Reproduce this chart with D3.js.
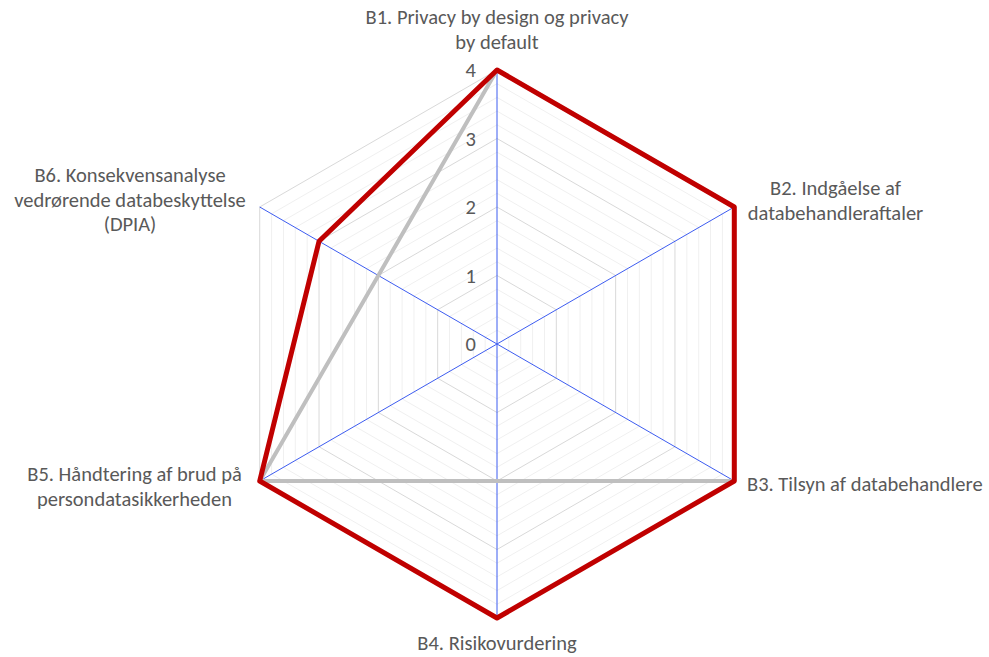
<!DOCTYPE html>
<html>
<head>
<meta charset="utf-8">
<script src="https://cdn.jsdelivr.net/npm/d3@7"></script>
<style>
  body { margin: 0; background: #fff; }
  svg text { font-family: Carlito, Lato, "Open Sans", sans-serif; fill: #595959; }
</style>
</head>
<body>
<div id="chart"></div>
<script>
const categories = [
  ["B1. Privacy by design og privacy", "by default"],
  ["B2. Indgåelse af", "databehandleraftaler"],
  ["B3. Tilsyn af databehandlere"],
  ["B4. Risikovurdering"],
  ["B5. Håndtering af brud på", "persondatasikkerheden"],
  ["B6. Konsekvensanalyse", "vedrørende databeskyttelse", "(DPIA)"]
];
const seriesGray = [4, 4, 4, 2, 4, 2];
const seriesRed = [4, 4, 4, 4, 4, 3];
const tickLabels = [0, 1, 2, 3, 4];

const width = 989, height = 657;
const cx = 497, cy = 344;
const fontSize = 20.5;

const svg = d3.select("#chart").append("svg")
    .attr("width", width)
    .attr("height", height);

const g = svg.append("g").attr("transform", "translate(" + cx + "," + cy + ")");

const r = d3.scaleLinear().domain([0, 4]).range([0, 274]);
const angle = d3.scaleLinear().domain([0, categories.length]).range([0, 2 * Math.PI]);

function pt(i, v) {
  const a = angle(i) - Math.PI / 2;
  return [r(v) * Math.cos(a), r(v) * Math.sin(a)];
}

// minor + major grid hexagons
const gridLevels = d3.range(0.2, 4.01, 0.2);
g.selectAll(".grid")
  .data(gridLevels)
  .enter()
  .append("polygon")
  .attr("points", v => categories.map((c, i) => pt(i, v).join(",")).join(" "))
  .attr("fill", "none")
  .attr("stroke", v => Math.abs(v - Math.round(v)) < 0.01 ? "#d9d9d9" : "#f0f0f0")
  .attr("stroke-width", 1);

// spokes
g.selectAll(".spoke")
  .data(categories)
  .enter()
  .append("line")
  .attr("x1", 0).attr("y1", 0)
  .attr("x2", (d, i) => pt(i, 4)[0])
  .attr("y2", (d, i) => pt(i, 4)[1])
  .attr("stroke", "#3d5cf0")
  .attr("stroke-width", 1);

const line = d3.lineRadial()
  .angle((d, i) => angle(i))
  .radius(d => r(d))
  .curve(d3.curveLinearClosed);

g.append("path")
  .attr("d", line(seriesGray))
  .attr("fill", "none")
  .attr("stroke", "#bfbfbf")
  .attr("stroke-width", 4)
  .attr("stroke-linejoin", "round");

g.append("path")
  .attr("d", line(seriesRed))
  .attr("fill", "none")
  .attr("stroke", "#c00000")
  .attr("stroke-width", 5)
  .attr("stroke-linejoin", "round");

// tick labels
g.selectAll(".tick")
  .data(tickLabels)
  .enter()
  .append("text")
  .attr("x", -21)
  .attr("y", d => -r(d) + 7)
  .attr("text-anchor", "end")
  .attr("font-size", fontSize)
  .text(d => d);

// category labels
const labelPos = [
  { x: 0, y: -320, anchor: "middle" },
  { x: 338.5, y: -149, anchor: "middle" },
  { x: 250, y: 147, anchor: "start" },
  { x: 0, y: 306, anchor: "middle" },
  { x: -362.5, y: 137, anchor: "middle" },
  { x: -367, y: -162, anchor: "middle" }
];
categories.forEach((c, i) => {
  const p = labelPos[i];
  const t = g.append("text")
    .attr("x", p.x)
    .attr("y", p.y)
    .attr("text-anchor", p.anchor)
    .attr("font-size", fontSize);
  c.forEach((s, k) => {
    t.append("tspan").attr("x", p.x).attr("dy", k === 0 ? 0 : 24.5).text(s);
  });
});
</script>
</body>
</html>
